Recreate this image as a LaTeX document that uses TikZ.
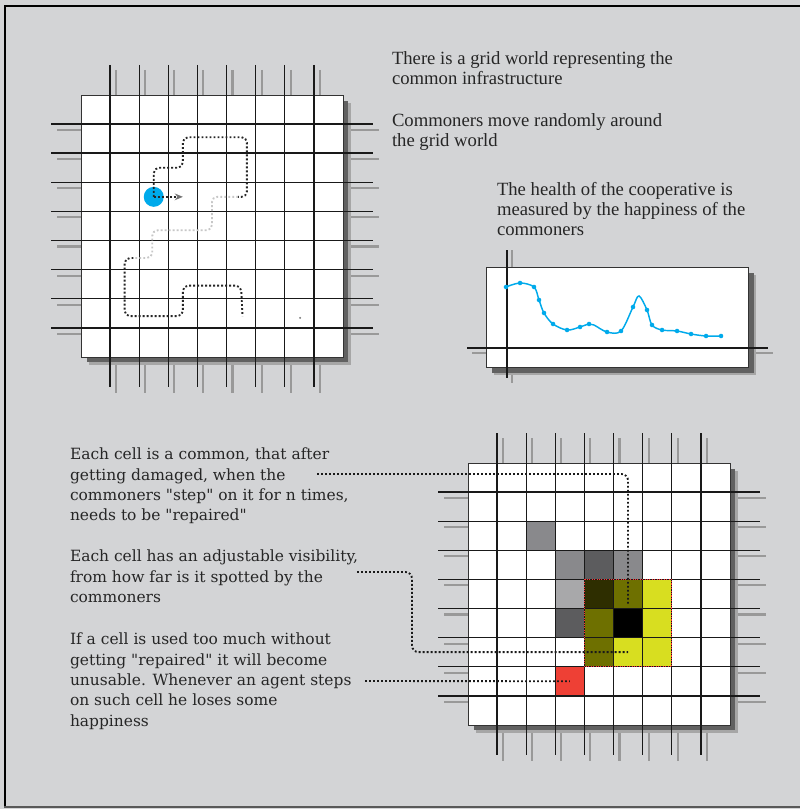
\documentclass[tikz,border=0pt]{standalone}
\usepackage{fontspec}
\setmainfont{Liberation Serif}
\newfontfamily\slabfont{DejaVu Serif}
\usetikzlibrary{positioning,calc,arrows.meta}
\definecolor{bggray}{RGB}{211,212,214}
\definecolor{agentblue}{RGB}{0,170,235}
\definecolor{cellgray}{RGB}{137,137,140}
\definecolor{celldark}{RGB}{92,92,94}
\definecolor{celllight}{RGB}{168,168,170}
\definecolor{oliveA}{RGB}{46,46,0}
\definecolor{oliveB}{RGB}{110,112,0}
\definecolor{limeC}{RGB}{216,222,32}
\definecolor{cellred}{RGB}{238,64,53}

\begin{document}
\begin{tikzpicture}[x=0.75pt,y=-0.75pt,
  every node/.style={inner sep=0pt,outer sep=0pt,text=black!85},
  toptext/.style={anchor=north west,align=left,font=\fontsize{14}{15}\selectfont},
  slabtext/.style={anchor=north west,align=left,font=\slabfont\fontsize{11.6}{15.3}\selectfont},
  gridline/.style={black!90,line width=1.05pt},
  gridshade/.style={black!40,line width=1.6pt},
  walk/.style={dash pattern=on 1.4pt off 1.6pt,line width=1.4pt,black!85,rounded corners=4pt},
  faintwalk/.style={walk,black!22},
  pointer/.style={dash pattern=on 1.4pt off 1.6pt,line width=1.4pt,black!90,rounded corners=5pt}]
% background and frame
\useasboundingbox (0,0) rectangle (800,809);
\fill[bggray] (0,0) rectangle (800,809);
\draw[black,line width=1.6pt] (5,807) -- (5,6) -- (800,6);
\draw[black!65,line width=1.2pt] (4,807) -- (800,807);

% the two grid worlds: shade lines, shadow, white board
\foreach \gx/\gy in {81/95,468/463} {
  \begin{scope}[shift={(\gx,\gy)}]
    \foreach \k in {1,...,8} {
      \draw[gridshade] (29.1*\k+6,-25) -- (29.1*\k+6,298);
      \draw[gridshade] (-24,29.1*\k+6) -- (298,29.1*\k+6);
    }
    \fill[black!35] (8,8) rectangle (270,270);
    \fill[black!62] (6,6) rectangle (267,267);
    \filldraw[fill=white,draw=black!80,line width=0.7pt] (0,0) rectangle (262,262);
  \end{scope}
}

% worn cells
\begin{scope}[shift={(468,463)}]
\begin{scope}[x=21.825pt,y=-21.825pt]
  \foreach \c/\r/\col in {2/2/cellgray,3/3/cellgray,4/3/celldark,5/3/cellgray,
      3/4/celllight,4/4/oliveA,5/4/oliveB,6/4/limeC,3/5/celldark,4/5/oliveB,
      5/5/black,6/5/limeC,4/6/oliveB,5/6/limeC,6/6/limeC,3/7/cellred}
    \fill[\col] (\c,\r) rectangle ++(1,1);
  \coordinate (dmgend) at (5.5,4.85);
  \coordinate (visend) at (5.5,6.5);
  \coordinate (useend) at (3.5,7.5);
\end{scope}
\end{scope}

% grid lines
\foreach \gx/\gy in {81/95,468/463} {
  \begin{scope}[shift={(\gx,\gy)}]
    \foreach \k in {1,...,8} {
      \draw[gridline] (29.1*\k,-30) -- (29.1*\k,292);
      \draw[gridline] (-30,29.1*\k) -- (292,29.1*\k);
    }
  \end{scope}
}

% visibility area
\begin{scope}[shift={(468,463)}]
\begin{scope}[x=21.825pt,y=-21.825pt]
  \draw[red!80,densely dotted,line width=0.8pt] (4,4) rectangle (7,7);
\end{scope}
\end{scope}

% commoner and its random walk
\begin{scope}[shift={(81,95)}]
\begin{scope}[x=21.825pt,y=-21.825pt]
  \node[circle,fill=agentblue,minimum size=15pt] (agent) at (2.5,3.5) {};
  \draw[walk] (agent.center) -- (2.5,2.5) -- (3.5,2.5) -- (3.5,1.45) -- (5.7,1.45) -- (5.7,3.5) -- (5.4,3.5);
  \draw[faintwalk] (5.4,3.5) -- (4.5,3.5) -- (4.5,4.65) -- (2.45,4.65) -- (2.45,5.6) -- (1.8,5.6);
  \draw[walk] (1.8,5.6) -- (1.5,5.6) -- (1.5,7.6) -- (3.5,7.6) -- (3.5,6.55) -- (5.5,6.55) -- (5.55,7.6);
  \coordinate (cursor) at (3.5,3.5);
  \draw[walk,-{Stealth[open,length=6pt,width=5pt,color=black!55]}] (agent.center) -- (cursor);
  \fill[black!50] (7.53,7.66) circle[radius=0.8pt];
\end{scope}
\end{scope}

% happiness chart
\draw[gridshade] (512,250) -- (512,383);
\draw[gridshade] (472,353) -- (773,353);
\fill[black!35] (494,275) rectangle (756,375);
\fill[black!62] (492,273) rectangle (754,373);
\filldraw[fill=white,draw=black!80,line width=0.7pt] (486,267) rectangle (748,367);
\draw[gridline] (507,250) -- (507,378);
\draw[gridline] (467,348) -- (768,348);
\draw[agentblue,line width=1.1pt] plot[smooth,tension=0.55] coordinates {(506,287) (520,283) (534,287) (539,300) (544,313) (553,324) (567,330) (580,327) (589,324) (594,325) (607,332) (621,331) (633,307) (639,296) (647,310) (652,325) (662,330) (677,331) (691,334) (706,336) (721,336)};
\foreach \p in {(506,287),(520,283),(534,287),(539,300),(544,313),(553,324),(567,330),(580,327),(589,324),(607,332),(621,331),(633,307),(647,310),(652,325),(662,330),(677,331),(691,334),(706,336),(721,336)}
  \fill[agentblue] \p circle[radius=1.7pt];

% texts
\node[toptext] (world) at (392,52) {There is a grid world representing the\\common infrastructure};
\node[toptext] (moves) at (392,114) {Commoners move randomly around\\the grid world};
\node[toptext] (health) at (497,182) {The health of the cooperative is\\measured by the happiness of the\\commoners};
\node[slabtext] (damage) at (70,448) {Each cell is a common, that after\\getting damaged, when the\\commoners "step" on it for n times,\\needs to be "repaired"};
\node[slabtext] (visib) at (70,550) {Each cell has an adjustable visibility,\\from how far is it spotted by the\\commoners};
\node[slabtext] (unusable) at (70,633) {If a cell is used too much without\\getting "repaired" it will become\\unusable. Whenever an agent steps\\on such cell he loses some\\happiness};

% pointers from the texts to the cells
\coordinate (dmgstart) at (317,474);
\coordinate (visstart) at (357,572);
\coordinate (usestart) at (365,681);
\draw[pointer] (dmgstart) -| (dmgend);
\draw[pointer] (visstart) -- ++(55,0) |- (visend);
\draw[pointer] (usestart) -- (useend);
\end{tikzpicture}
\end{document}
